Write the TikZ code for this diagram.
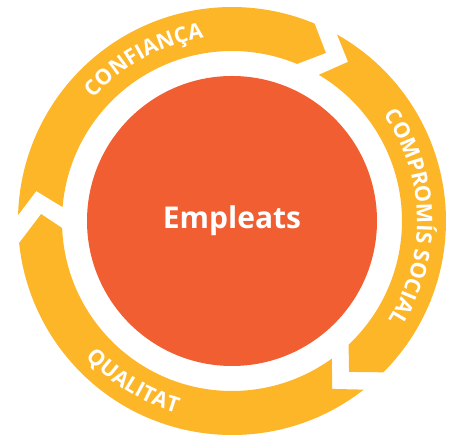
\documentclass[tikz,border=0pt]{standalone}
\usepackage{fontspec}
\setmainfont{Open Sans}
\usepackage{xcolor}
\usetikzlibrary{decorations.text}
\definecolor{ringyellow}{RGB}{252,182,40}
\definecolor{coreorange}{RGB}{241,94,50}
\tikzstyle{ring} = [fill=ringyellow, draw=none]
\tikzstyle{ringtext} = [decorate, font=\ringfont,
  decoration={text along path, text align=center}]
\newcommand{\ringfont}{\fontsize{21.5}{21.5}\selectfont\bfseries\color{white}}

\begin{document}
\begin{tikzpicture}[x=1pt, y=1pt,
  core/.style={circle, fill=coreorange, minimum size=290pt, inner sep=0pt,
  text=white, font=\fontsize{30}{30}\selectfont\bfseries}]
  \useasboundingbox (0,0) rectangle (452,435);
  \node [core] (empleats) at (232,214) {Empleats};
  \begin{scope}[shift={(empleats.center)}]
  %% Arrows
  \path [ring] (178.4:214) arc[start angle=178.4, end angle=67.3, radius=214]
    -- (60.8:192.5) -- (67.5:170) arc[start angle=67.5, end angle=175.3, radius=170]
    -- (171.3:198) -- cycle;
  \path [ring] (60.6:214) arc[start angle=60.6, end angle=-45, radius=214]
    -- (-52.2:191) -- (-46.7:170) arc[start angle=-46.7, end angle=59.3, radius=170]
    -- (53.9:197) -- cycle;
  \path [ring] (-52:214) arc[start angle=-52, end angle=-174.1, radius=214]
    -- (-182.1:191) -- (-177.6:170) arc[start angle=-177.6, end angle=-54, radius=170]
    -- (-59.2:195.5) -- cycle;
  %% Labels
  \path [ringtext, decoration={text={|\ringfont|CONFIANÇA}}]
    (158.6:185) arc[start angle=158.6, end angle=78.6, radius=185];
  \path [ringtext, decoration={text={|\ringfont|COMPROMÍS SOCIAL}}]
    (46.35:185) arc[start angle=46.35, end angle=-43.65, radius=185];
  \path [ringtext, decoration={text={|\ringfont|QUALITAT}}]
    (203.5:200) arc[start angle=203.5, end angle=273.5, radius=200];
  \end{scope}
\end{tikzpicture}
\end{document}
